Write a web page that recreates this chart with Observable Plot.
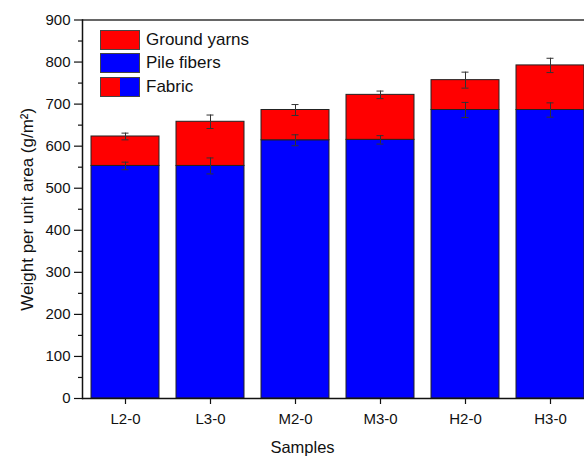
<!DOCTYPE html>
<html>
<head>
<meta charset="utf-8">
<script src="https://cdn.jsdelivr.net/npm/d3@7"></script>
<script src="https://cdn.jsdelivr.net/npm/@observablehq/plot@0.6"></script>
<style>
  html, body { margin: 0; padding: 0; background: #fff; overflow: hidden; }
  #wrap { position: relative; width: 584px; height: 457px; font-family: "Liberation Sans", Arial, sans-serif; }
  .legend { position: absolute; left: 100px; top: 28px; }
  .row { display: flex; align-items: center; height: 23.5px; }
  .sw { width: 40px; height: 20px; border: 1px solid #444; box-sizing: border-box; margin-right: 6px; display: flex; }
  .sw span { flex: 1; }
  .lab { font-size: 17px; color: #111; }
</style>
</head>
<body>
<div id="wrap"></div>
<script>
const samples = ["L2-0", "L3-0", "M2-0", "M3-0", "H2-0", "H3-0"];
const pileFibers = [553, 553, 614, 615, 686, 686];
const groundYarns = [70, 105, 72, 107, 71, 106];
const pileErr = [9, 19, 13, 10, 18, 17];
const fabricErr = [8, 16, 13, 9, 19, 17];
const yTicks = [0, 100, 200, 300, 400, 500, 600, 700, 800, 900];
const yMinorTicks = [50, 150, 250, 350, 450, 550, 650, 750, 850];

const RED = "#ff0000", BLUE = "#0000ff";

const bars = [];
samples.forEach((s, i) => {
  bars.push({sample: s, part: "Pile fibers", y1: 0, y2: pileFibers[i]});
  bars.push({sample: s, part: "Ground yarns", y1: pileFibers[i], y2: pileFibers[i] + groundYarns[i]});
});
const errs = [];
samples.forEach((s, i) => {
  errs.push({sample: s, y: pileFibers[i], e: pileErr[i]});
  errs.push({sample: s, y: pileFibers[i] + groundYarns[i], e: fabricErr[i]});
});

const font = "Liberation Sans, Arial, sans-serif";

const chart = Plot.plot({
  width: 584,
  height: 457,
  marginLeft: 82,
  marginRight: 0,
  marginTop: 19.5,
  marginBottom: 59,
  style: {fontFamily: font, background: "white", overflow: "hidden"},
  x: {domain: samples, range: [82, 593], paddingInner: 0.2, paddingOuter: 0.1},
  y: {domain: [0, 900], range: [398, 19.5]},
  color: {domain: ["Pile fibers", "Ground yarns"], range: [BLUE, RED]},
  marks: [
    Plot.barY(bars, {x: "sample", y1: "y1", y2: "y2", fill: "part", stroke: "#222", strokeWidth: 1}),
    Plot.ruleX(errs, {x: "sample", y1: d => d.y - d.e, y2: d => d.y + d.e, stroke: "#333", strokeWidth: 1}),
    Plot.tickY(errs, {x: "sample", y: d => d.y + d.e, stroke: "#333", strokeWidth: 1, inset: 30.5}),
    Plot.tickY(errs, {x: "sample", y: d => d.y - d.e, stroke: "#333", strokeWidth: 1, inset: 30.5}),
    Plot.ruleY([900], {stroke: "#666", strokeWidth: 2}),
    Plot.ruleY([0], {stroke: "#111", strokeWidth: 1.5}),
    Plot.frame({anchor: "left", stroke: "#111", strokeWidth: 1.5}),
    Plot.axisY({ticks: yTicks, tickSize: 8, tickPadding: 4, fontSize: 15, label: null, stroke: "#111", strokeWidth: 1.2, color: "#111"}),
    Plot.axisY({ticks: yMinorTicks, tickSize: 4, text: null, label: null, stroke: "#111", strokeWidth: 1.2}),
    Plot.axisX({tickSize: 6, tickPadding: 9, fontSize: 15, label: null, stroke: "#111", strokeWidth: 1.2, color: "#111"}),
    Plot.text(["Samples"], {frameAnchor: "bottom-left", dx: 220, dy: 49, fontSize: 16.5, fill: "#111", textAnchor: "middle", lineAnchor: "middle"}),
    Plot.text(["Weight per unit area (g/m²)"], {frameAnchor: "left", dx: -55, dy: 0, rotate: -90, fontSize: 17, fill: "#111", textAnchor: "middle", lineAnchor: "middle"})
  ]
});
chart.style.maxWidth = "none";
const wrap = document.getElementById("wrap");
wrap.appendChild(chart);

const legendItems = [
  {label: "Ground yarns", colors: [RED]},
  {label: "Pile fibers", colors: [BLUE]},
  {label: "Fabric", colors: [RED, BLUE]}
];
const lg = document.createElement("div");
lg.className = "legend";
legendItems.forEach(it => {
  const row = document.createElement("div");
  row.className = "row";
  const sw = document.createElement("div");
  sw.className = "sw";
  it.colors.forEach(c => { const sp = document.createElement("span"); sp.style.background = c; sw.appendChild(sp); });
  const lab = document.createElement("span");
  lab.className = "lab";
  lab.textContent = it.label;
  row.appendChild(sw); row.appendChild(lab);
  lg.appendChild(row);
});
wrap.appendChild(lg);
</script>
</body>
</html>
